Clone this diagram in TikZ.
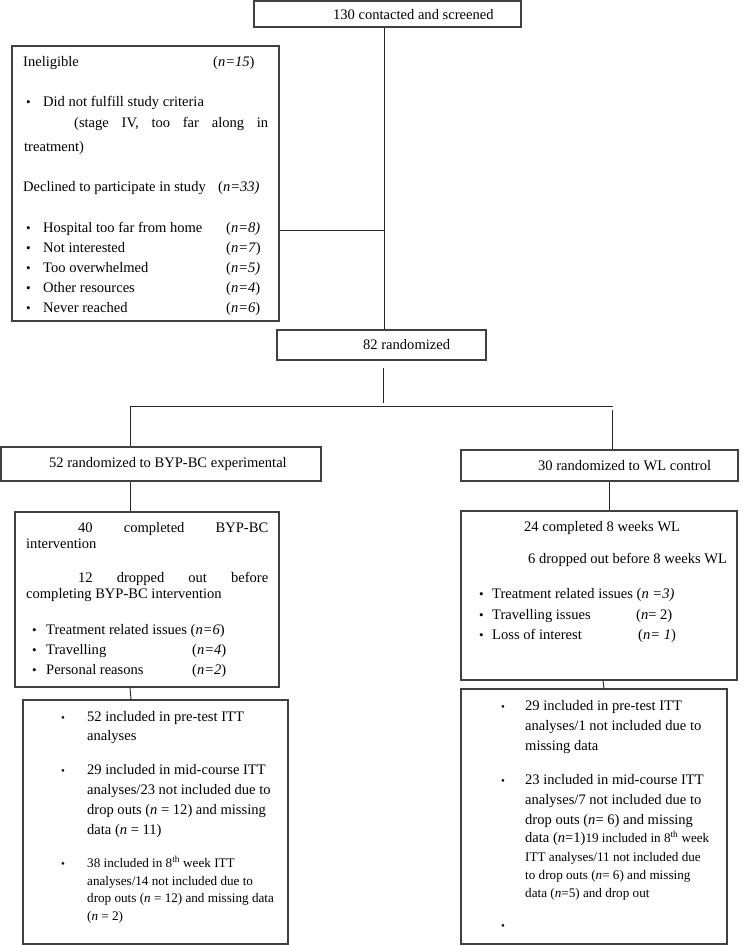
\documentclass[tikz,border=0pt]{standalone}
\usepackage{fontspec}
\setmainfont{Liberation Serif}
\newcommand\mainsz{\fontsize{14.6}{16}\selectfont}
\newcommand\smallsz{\fontsize{13.2}{15}\selectfont}
\tikzset{
  boxs/.style={draw=black!75, line width=1.1bp, rectangle, inner sep=0pt},
  conn/.style={draw=black!85, line width=0.9bp},
  txt/.style={inner sep=0pt, anchor=base west, font=\mainsz},
  stxt/.style={inner sep=0pt, anchor=base west, font=\smallsz},
  bul/.style={inner sep=0pt, anchor=base west, yshift=-0.8bp, font=\fontsize{13}{13}\selectfont},
  sbul/.style={inner sep=0pt, anchor=base west, yshift=-0.5bp, font=\fontsize{11}{11}\selectfont}
}
\newcommand\tl[4]{\node[txt] (#1) at (#2,-#3) {#4};}
\newcommand\ts[4]{\node[stxt] (#1) at (#2,-#3) {#4};}
\newcommand\bl[3]{\node[bul] (#1) at (#2,-#3) {•};}
\newcommand\sbl[3]{\node[sbul] (#1) at (#2,-#3) {•};}
\begin{document}
\begin{tikzpicture}[x=1bp,y=1bp]
\useasboundingbox (0,0) rectangle (751,-945);
% boxes
\node[boxs, minimum width=267bp, minimum height=26bp] (top) at (387.5,-14) {};
\node[boxs, minimum width=267bp, minimum height=275bp] (L1) at (145.5,-183.5) {};
\node[boxs, minimum width=209bp, minimum height=30bp] (r82) at (381.5,-345) {};
\node[boxs, minimum width=320bp, minimum height=34bp] (byp) at (161,-464) {};
\node[boxs, minimum width=277bp, minimum height=31bp] (wl) at (599.5,-465.5) {};
\node[boxs, minimum width=264bp, minimum height=175bp] (L2) at (147,-599.5) {};
\node[boxs, minimum width=276bp, minimum height=169bp] (R2) at (599,-595.5) {};
\node[boxs, minimum width=265bp, minimum height=244bp] (L3) at (155.5,-822) {};
\node[boxs, minimum width=266bp, minimum height=255bp] (R3) at (594,-816.5) {};
% coordinates
\coordinate (vx) at (384,0);
\coordinate (jl) at (384,-230);
\coordinate (bt) at (383,-403);
\coordinate (bl) at (130,-406);
\coordinate (br) at (613,-406);
\coordinate (brd) at (612,-410);
\coordinate (rx) at (609,0);
\coordinate (rx2) at (603,0);
% connectors
\draw[conn] (top.south -| vx) -- (r82.north -| vx);
\draw[conn] (jl -| L1.east) -- (jl);
\draw[conn] ([yshift=-7bp]r82.south -| bt) -- (bt);
\draw[conn] (bl) -- (br);
\draw[conn] (bl) -- (bl |- byp.north);
\draw[conn] (brd) -- (brd |- wl.north);
\draw[conn] (byp.south -| bl) -- (L2.north -| bl);
\draw[conn] (L2.south -| bl) -- ([xshift=1bp]L3.north -| bl);
\draw[conn] (wl.south -| rx) -- (R2.north -| rx);
\draw[conn] (R2.south -| rx2) -- ([xshift=1bp]R3.north -| rx2);
% top texts
\tl{ttop}{333}{19}{130 contacted and screened}
\tl{t82}{363}{349}{82 randomized}
\tl{tbyp}{49}{467}{52 randomized to BYP-BC experimental}
\tl{twl}{538}{470}{30 randomized to WL control}
% L1
\tl{a1}{23}{66}{Ineligible}
\tl{a1n}{213}{66}{(\textit{n=15})}
\bl{ab1}{26}{106}
\tl{a2}{43}{106}{Did not fulfill study criteria}
\tl{a3}{74}{127}{\makebox[194bp][s]{(stage IV, too far along in}}
\tl{a4}{24}{151}{treatment)}
\tl{a5}{23}{191}{Declined to participate in study}
\tl{a5n}{218}{191}{(\textit{n=33)}}
\bl{ab2}{26}{232}\tl{a6}{43}{232}{Hospital too far from home}\tl{a6n}{226}{232}{(\textit{n=8)}}
\bl{ab3}{26}{252}\tl{a7}{43}{252}{Not interested}\tl{a7n}{226}{252}{(\textit{n=7})}
\bl{ab4}{26}{272}\tl{a8}{43}{272}{Too overwhelmed}\tl{a8n}{226}{272}{(\textit{n=5)}}
\bl{ab5}{26}{292}\tl{a9}{43}{292}{Other resources}\tl{a9n}{226}{292}{(\textit{n=4})}
\bl{ab6}{26}{312}\tl{a10}{43}{312}{Never reached}\tl{a10n}{226}{312}{(\textit{n=6})}
% L2
\tl{b1}{78}{532}{\makebox[190bp][s]{40 completed BYP-BC}}
\tl{b2}{26}{548}{intervention}
\tl{b3}{78}{582}{\makebox[190bp][s]{12 dropped out before}}
\tl{b4}{26}{598}{completing BYP-BC intervention}
\bl{bb1}{32}{634}\tl{b5}{46}{634}{Treatment related issues (\textit{n=6})}
\bl{bb2}{32}{654}\tl{b6}{46}{654}{Travelling}\tl{b6n}{192}{654}{(\textit{n=4})}
\bl{bb3}{32}{674}\tl{b7}{46}{674}{Personal reasons}\tl{b7n}{192}{674}{(\textit{n=2})}
% R2
\tl{c1}{524}{531}{24 completed 8 weeks WL}
\tl{c2}{528}{563}{6 dropped out before 8 weeks WL}
\bl{cb1}{479}{598}\tl{c3}{492}{598}{Treatment related issues (\textit{n =3)}}
\bl{cb2}{479}{619}\tl{c4}{492}{619}{Travelling issues}\tl{c4n}{636}{619}{(\textit{n}= 2)}
\bl{cb3}{479}{639}\tl{c5}{492}{639}{Loss of interest}\tl{c5n}{638}{639}{(\textit{n= 1})}
% L3
\sbl{db1}{61}{721}
\tl{d1}{87}{721}{52 included in pre-test ITT}
\tl{d2}{87}{740}{analyses}
\sbl{db2}{61}{774}
\tl{d3}{87}{774}{29 included in mid-course ITT}
\tl{d4}{87}{794}{analyses/23 not included due to}
\tl{d5}{87}{814}{drop outs (\textit{n} = 12) and missing}
\tl{d6}{87}{834}{data (\textit{n} = 11)}
\sbl{db3}{61}{867}
\ts{d7}{87}{867}{38 included in 8\textsuperscript{th} week ITT}
\ts{d8}{87}{885}{analyses/14 not included due to}
\ts{d9}{87}{902}{drop outs (\textit{n} = 12) and missing data}
\ts{d10}{87}{920}{(\textit{n} = 2)}
% R3
\sbl{eb1}{501}{710}
\tl{e1}{525}{710}{29 included in pre-test ITT}
\tl{e2}{525}{730}{analyses/1 not included due to}
\tl{e3}{525}{750}{missing data}
\sbl{eb2}{501}{784}
\tl{e4}{525}{784}{23 included in mid-course ITT}
\tl{e5}{525}{804}{analyses/7 not included due to}
\tl{e6}{525}{824}{drop outs (\textit{n}= 6) and missing}
\tl{e7}{525}{842}{data (\textit{n}=1)\smallsz 19 included in 8\textsuperscript{th} week}
\ts{e8}{525}{861}{ITT analyses/11 not included due}
\ts{e9}{525}{879}{to drop outs (\textit{n}= 6) and missing}
\ts{e10}{525}{897}{data (\textit{n}=5) and drop out}
\sbl{eb3}{501}{929}
\end{tikzpicture}
\end{document}
